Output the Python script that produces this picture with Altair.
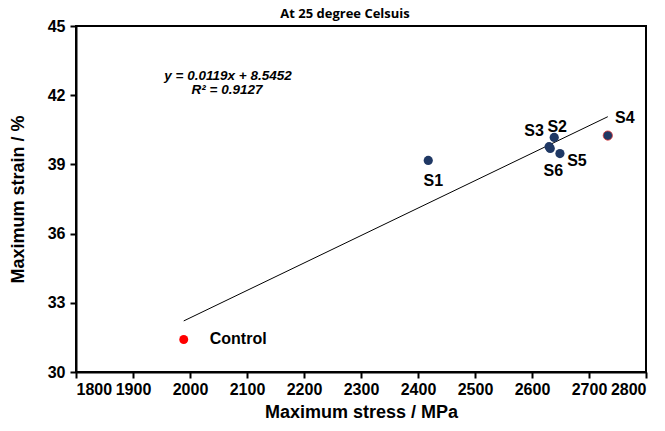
import altair as alt
import pandas as pd

labels = ["S1", "S2", "S3", "S4", "S5", "S6"]
stress = [2418, 2639, 2630, 2733, 2649, 2632]
strain = [39.17, 40.17, 39.77, 40.25, 39.47, 39.69]

control_stress = [1989]
control_strain = [31.41]

slope, intercept = 0.0119, 8.5452
r_squared = 0.9127
trend_x = [1989, 2733]
trend_y = [slope * v + intercept for v in trend_x]

x_ticks = list(range(1800, 2801, 100))
y_ticks = [30, 33, 36, 39, 42, 45]

FONT = "Liberation Sans"

df = pd.DataFrame({"label": labels, "stress": stress, "strain": strain})
ctrl = pd.DataFrame({"label": ["Control"], "stress": control_stress, "strain": control_strain})
trend = pd.DataFrame({"stress": trend_x, "strain": trend_y})

xs = alt.Scale(domain=[1800, 2800], nice=False)
ys = alt.Scale(domain=[30, 45], nice=False, zero=False)

common_axis = dict(grid=False, labelFont=FONT, labelFontSize=16, labelFontWeight="bold",
                   labelColor="black", titleFont=FONT, titleFontSize=18,
                   titleFontWeight="bold", titleColor="black", tickColor="black",
                   domainColor="black", domainWidth=2, tickWidth=2, tickSize=6)

X = alt.X("stress:Q", scale=xs, title="Maximum stress / MPa",
          axis=alt.Axis(values=x_ticks, format="d", labelPadding=3, titlePadding=6,
                        **common_axis))
Y = alt.Y("strain:Q", scale=ys, title="Maximum strain / %",
          axis=alt.Axis(values=y_ticks, format="d", labelPadding=5, titlePadding=20,
                        **common_axis))

line = alt.Chart(trend).mark_line(color="black", strokeWidth=1).encode(x=X, y=Y)

pts = alt.Chart(df).mark_point(filled=True, shape="circle", size=85, color="#1F3864",
                               opacity=1).encode(x="stress:Q", y="strain:Q")
s4_edge = alt.Chart(df[df.label == "S4"]).mark_point(filled=False, shape="circle", size=85,
                                                     color="#E03030", strokeWidth=1,
                                                     opacity=0.8).encode(x="stress:Q", y="strain:Q")
cpt = alt.Chart(ctrl).mark_point(filled=True, shape="circle", size=80, color="#FF0000",
                                 opacity=1).encode(x="stress:Q", y="strain:Q")

offsets = {"S1": (5, 21), "S2": (3, -10), "S3": (-15, -16), "S4": (17, -18),
           "S5": (17, 7), "S6": (3, 23)}
label_layers = []
for lab, (dx, dy) in offsets.items():
    label_layers.append(
        alt.Chart(df[df.label == lab]).mark_text(font=FONT, fontSize=16, fontWeight="bold",
                                                 color="black", dx=dx, dy=dy, align="center",
                                                 baseline="middle")
        .encode(x="stress:Q", y="strain:Q", text="label:N"))

ctrl_lab = alt.Chart(ctrl).mark_text(font=FONT, fontSize=16, fontWeight="bold", color="black",
                                     align="left", baseline="middle", dx=26, dy=0).encode(
    x="stress:Q", y="strain:Q", text="label:N")

eq = alt.Chart(pd.DataFrame({"t": [f"y = {slope}x + {intercept}"]})).mark_text(
    font=FONT, fontSize=13.5, fontWeight="bold", fontStyle="italic", color="black",
    align="center", baseline="alphabetic").encode(x=alt.value(152), y=alt.value(54), text="t:N")
r2 = alt.Chart(pd.DataFrame({"t": [f"R² = {r_squared}"]})).mark_text(
    font=FONT, fontSize=13.5, fontWeight="bold", fontStyle="italic", color="black",
    align="center", baseline="alphabetic").encode(x=alt.value(151), y=alt.value(68), text="t:N")

chart = alt.layer(line, pts, s4_edge, cpt, *label_layers, ctrl_lab, eq, r2).properties(
    width=570, height=346,
    autosize=alt.AutoSizeParams(type="none"),
    padding={"left": 76, "top": 26, "right": 19, "bottom": 59},
    title=alt.TitleParams("At 25 degree Celsuis", font="Open Sans", fontSize=13,
                          fontWeight="bold", color="black", anchor="middle", offset=0,
                          dx=-16, dy=3),
).configure_view(stroke="black", strokeWidth=2)

chart.save("out.html", embed_options={"renderer": "svg", "actions": False})
